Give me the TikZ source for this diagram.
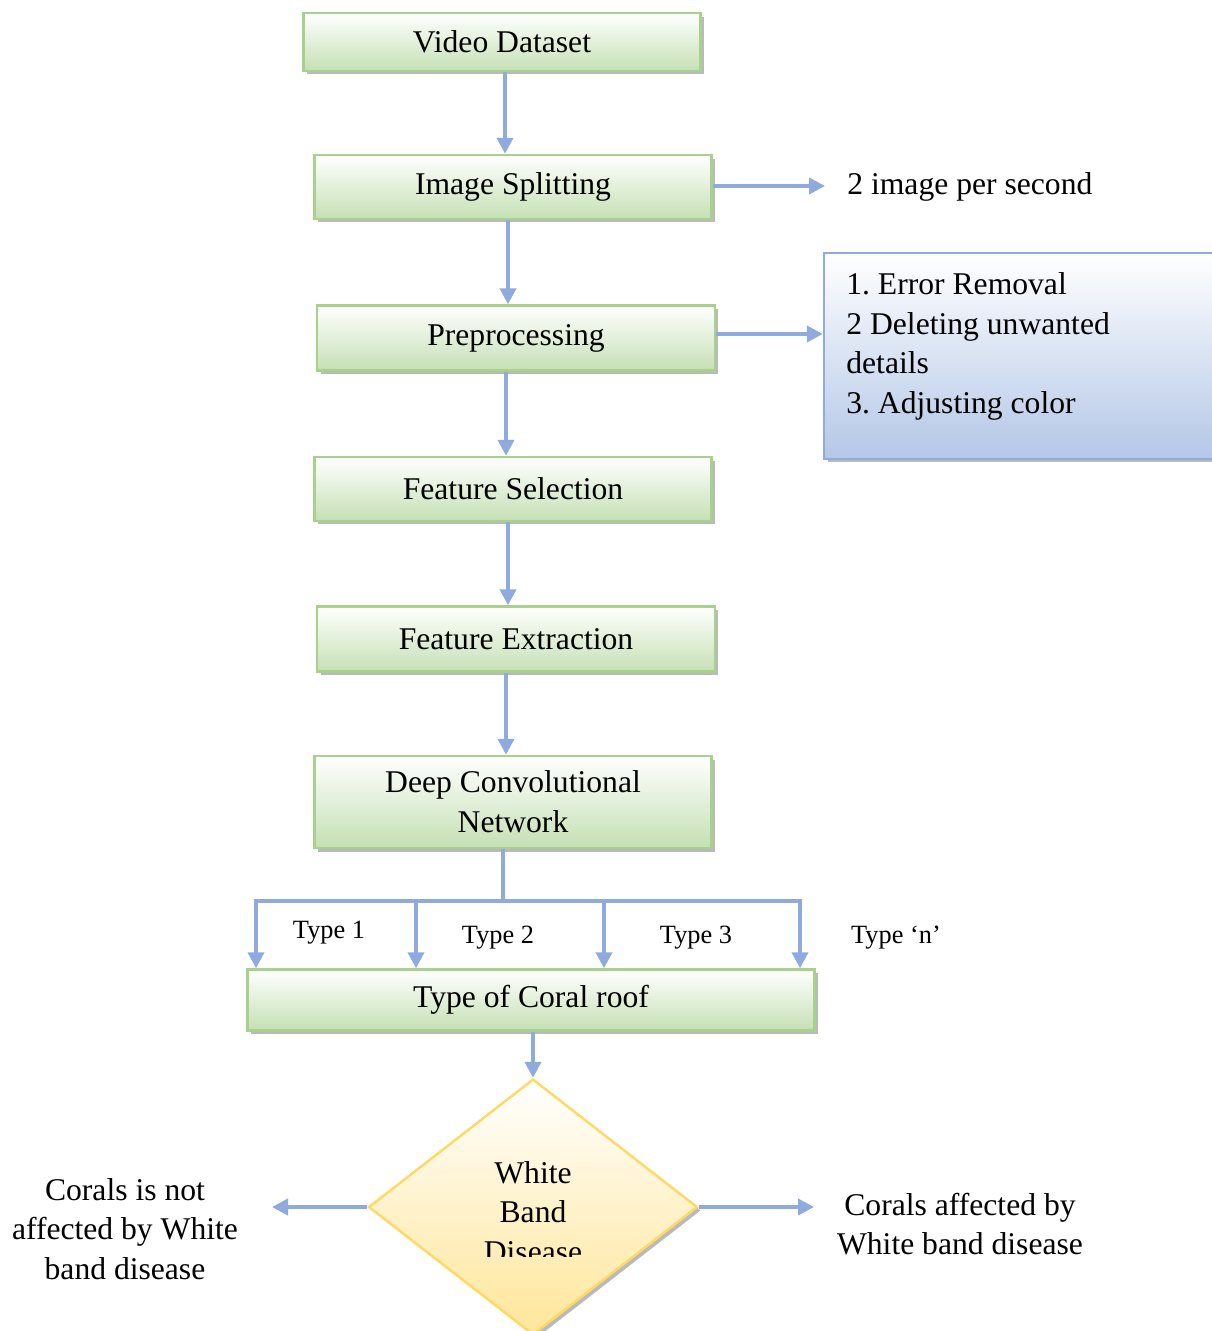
\documentclass[tikz,border=0pt]{standalone}
\usepackage{fontspec}
\setmainfont{Liberation Serif}
\usetikzlibrary{shapes.geometric,shadows,arrows.meta}
\definecolor{arrowblue}{RGB}{143,170,220}
\definecolor{boxgreen}{RGB}{169,209,142}
\definecolor{fillgreen}{RGB}{197,224,180}
\definecolor{fillblue}{RGB}{180,199,231}
\definecolor{dborder}{RGB}{255,217,102}
\definecolor{dfill}{RGB}{255,230,153}
\newcommand{\mainsize}{\fontsize{18}{22.6}\selectfont}
\newcommand{\typesize}{\fontsize{15}{18}\selectfont}
\frenchspacing
\tikzset{
  shadowed/.style={drop shadow={shadow xshift=0.07cm, shadow yshift=-0.07cm, fill=black!45, opacity=0.6}},
  flowbox/.style={rectangle, draw=boxgreen, line width=1.4pt, top color=white, bottom color=fillgreen, shadowed, inner sep=0pt, align=center, font=\mainsize},
  conn/.style={draw=arrowblue, line width=2.2pt, -{Triangle[length=0.32cm,width=0.32cm]}},
  plainline/.style={draw=arrowblue, line width=2.2pt},
  lbl/.style={font=\mainsize, align=center, inner sep=0pt},
  typelbl/.style={font=\typesize, inner sep=0pt},
}
\begin{document}
\begin{tikzpicture}[x=0.02cm, y=-0.02cm]
\clip (0,0) rectangle (1212,1331);
% green process boxes
\node[flowbox, minimum width=7.94cm, minimum height=1.16cm] (vd)  at (502,42)  {Video Dataset};
\node[flowbox, minimum width=7.94cm, minimum height=1.28cm] (is)  at (513,187) {Image Splitting};
\node[flowbox, minimum width=7.96cm, minimum height=1.30cm] (pp)  at (516,338) {Preprocessing};
\node[flowbox, minimum width=7.94cm, minimum height=1.28cm] (fs)  at (513,489) {Feature Selection};
\node[flowbox, minimum width=7.96cm, minimum height=1.30cm] (fe)  at (516,639) {Feature Extraction};
\node[flowbox, minimum width=7.94cm, minimum height=1.84cm] (dcn) at (513,802) {Deep Convolutional\\Network};
\node[flowbox, minimum width=11.34cm, minimum height=1.22cm] (tcr) at (531,1000) {Type of Coral roof};

% side annotations
\node[lbl, anchor=west, inner xsep=0.44cm] (ips) at (825,187) {2 image per second};
\node[rectangle, draw=arrowblue, line width=1.4pt, top color=white, bottom color=fillblue, shadowed,
      minimum width=8.32cm, minimum height=4.12cm, inner sep=0pt] (pbox) at (1032,356) {};
\node[lbl, align=left, anchor=north west] (ptxt) at (846,272) {1. Error Removal\\2 Deleting unwanted\\details\\3. Adjusting color};

% decision diamond
\node[diamond, draw=dborder, line width=1.4pt, top color=white, bottom color=dfill, shadowed,
      minimum width=6.58cm, minimum height=5.12cm, inner sep=0pt] (wbd) at (533,1207) {};
\begin{scope}
  \clip (380,1140) rectangle (690,1256);
  \node[lbl] (wbdtxt) at (533,1212) {White\\Band\\Disease};
\end{scope}
\node[lbl] (lft) at (125,1229) {Corals is not\\affected by White\\band disease};
\node[lbl] (rgt) at (960,1224) {Corals affected by\\White band disease};
\coordinate (la) at (272,1207);
\coordinate (ra) at (814,1207);

% main flow arrows
\draw[conn] ([xshift=0.06cm]vd.south) -- ([xshift=0.06cm]vd.south |- is.north);
\draw[conn] ([xshift=-0.1cm]is.south) -- ([xshift=-0.1cm]is.south |- pp.north);
\draw[conn] ([xshift=-0.2cm]pp.south) -- ([xshift=-0.2cm]pp.south |- fs.north);
\draw[conn] ([xshift=-0.1cm]fs.south) -- ([xshift=-0.1cm]fs.south |- fe.north);
\draw[conn] ([xshift=-0.2cm]fe.south) -- ([xshift=-0.2cm]fe.south |- dcn.north);
\draw[conn] ([yshift=0.02cm]is.east) -- ([yshift=0.02cm]ips.west);
\draw[conn] ([yshift=0.08cm]pp.east) -- ([yshift=0.08cm]pp.east -| pbox.west);

% branching to types
\coordinate (b1) at (256,901);
\coordinate (b2) at (416,901);
\coordinate (b3) at (604,901);
\coordinate (b4) at (800,901);
\coordinate (bt) at ([xshift=-0.2cm]dcn.south);
\coordinate (br) at (bt |- b1);
\draw[plainline] (bt) -- (br);
\draw[conn] (br) -- (b1) -- (b1 |- tcr.north);
\draw[conn] (br) -- (b4) -- (b4 |- tcr.north);
\draw[conn] (b2) -- (b2 |- tcr.north);
\draw[conn] (b3) -- (b3 |- tcr.north);
\node[typelbl] (t1) at (329,933) {Type 1};
\node[typelbl] (t2) at (498,938) {Type 2};
\node[typelbl] (t3) at (696,938) {Type 3};
\node[typelbl] (tn) at (896,938) {Type ‘n’};

\draw[conn] (tcr.south -| wbd.north) -- (wbd.north);
\draw[conn] (wbd.west) -- (la);
\draw[conn] (wbd.east) -- (wbd.east -| ra);
\end{tikzpicture}
\end{document}
